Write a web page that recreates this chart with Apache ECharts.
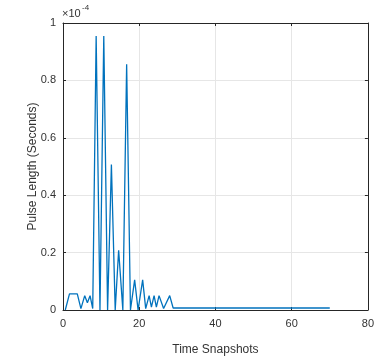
<!DOCTYPE html>
<html>
<head>
<meta charset="utf-8">
<script src="https://cdn.jsdelivr.net/npm/echarts@6/dist/echarts.min.js"></script>
<style>html,body{margin:0;padding:0;background:#fff}#c{width:377px;height:361px}</style>
</head>
<body>
<div id="c"></div>
<script>
// Time snapshot positions and pulse lengths (units of 1e-4 s)
var snapTimes = [0.6, 1.7, 3.75, 4.7, 5.7, 6.4, 7.1, 7.8, 8.7, 9.7, 10.7, 11.7, 12.7, 13.7, 14.6, 15.7, 16.7, 17.7, 18.8, 19.7, 20.9, 21.7, 22.6, 23.2, 23.9, 24.5, 25.2, 26.4, 28.0, 28.9, 70.0];
var pulseLen  = [0.0, 0.056, 0.056, 0.005, 0.05, 0.025, 0.05, 0.005, 0.955, 0.0, 0.955, 0.0, 0.507, 0.0, 0.208, 0.0, 0.856, 0.0, 0.105, 0.0, 0.105, 0.005, 0.05, 0.01, 0.05, 0.01, 0.05, 0.005, 0.05, 0.007, 0.007];
var xTicks = [0, 20, 40, 60, 80];
var yTicks = [0, 0.2, 0.4, 0.6, 0.8, 1];
var xTitle = 'Time Snapshots';
var yTitle = 'Pulse Length (Seconds)';
var expBase = '×10';
var expPow = '-4';

var data = snapTimes.map(function (t, i) { return [t, pulseLen[i]]; });
var axCol = '#262626';
var txtCol = '#333333';
var font = 'Liberation Sans, Arial, sans-serif';
var chart = echarts.init(document.getElementById('c'));
function boxAxis(pos, type) {
  return {
    type: 'value', position: pos, min: type === 'x' ? xTicks[0] : yTicks[0],
    max: type === 'x' ? xTicks[xTicks.length - 1] : yTicks[yTicks.length - 1],
    interval: type === 'x' ? 20 : 0.2,
    axisLine: { show: true, onZero: false, lineStyle: { color: axCol, width: 1 } },
    axisTick: { show: true, inside: true, length: 3, lineStyle: { color: axCol } },
    axisLabel: { show: false }, splitLine: { show: false }
  };
}
chart.setOption({
  animation: false,
  textStyle: { fontFamily: font },
  graphic: [
    { type: 'text', left: 62, top: 8, style: { text: expBase, fontSize: 11, fill: txtCol, fontFamily: font } },
    { type: 'text', left: 82, top: 4, style: { text: expPow, fontSize: 8, fill: txtCol, fontFamily: font } }
  ],
  grid: { left: 63, right: 7, top: 23, bottom: 47, containLabel: false },
  xAxis: [{
    type: 'value', min: 0, max: 80, interval: 20, position: 'bottom',
    name: xTitle, nameLocation: 'middle', nameGap: 34, nameMoveOverlap: false,
    nameTextStyle: { fontSize: 12, color: txtCol, fontFamily: font },
    axisLine: { show: true, onZero: false, lineStyle: { color: axCol, width: 1 } },
    axisTick: { show: true, inside: true, length: 3, lineStyle: { color: axCol } },
    axisLabel: { fontSize: 11, color: txtCol, margin: 8, fontFamily: font },
    splitLine: { show: true, lineStyle: { color: '#e6e6e6', width: 1 } }
  }, boxAxis('top', 'x')],
  yAxis: [{
    type: 'value', min: 0, max: 1, interval: 0.2, position: 'left',
    name: yTitle, nameLocation: 'middle', nameGap: 24, nameMoveOverlap: false,
    nameTextStyle: { fontSize: 12, color: txtCol, fontFamily: font },
    axisLine: { show: true, onZero: false, lineStyle: { color: axCol, width: 1 } },
    axisTick: { show: true, inside: true, length: 3, lineStyle: { color: axCol } },
    axisLabel: { fontSize: 11, color: txtCol, margin: 7, fontFamily: font },
    splitLine: { show: true, lineStyle: { color: '#e6e6e6', width: 1 } }
  }, boxAxis('right', 'y')],
  series: [{
    type: 'line', data: data, showSymbol: false, symbol: 'none',
    lineStyle: { color: '#0072BD', width: 1.3 }, z: 3
  }]
});
</script>
</body>
</html>
